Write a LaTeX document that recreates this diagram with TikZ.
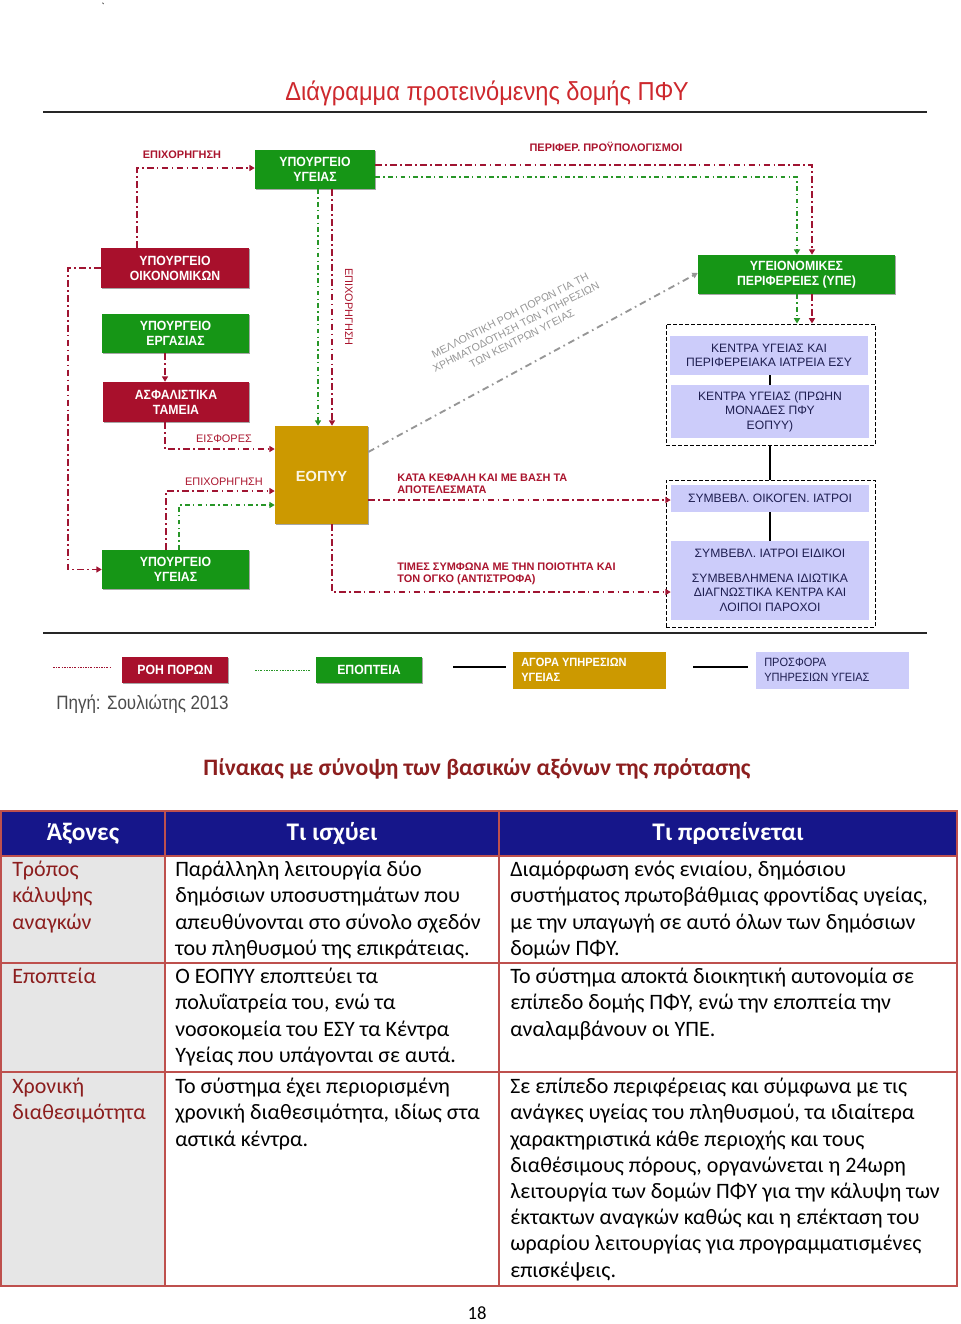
\documentclass[tikz,border=0pt]{standalone}
\usepackage{fontspec}
\setmainfont{Carlito}
\newfontfamily\ars{Liberation Sans}
\newfontfamily\boxf{Liberation Sans}[FakeStretch=0.92]
\newfontfamily\titf{Liberation Sans}[FakeStretch=0.91]
\newfontfamily\srcf{Liberation Sans}[FakeStretch=0.88]
\newfontfamily\calf{Carlito}
\usetikzlibrary{arrows.meta,fit,shadows}
\definecolor{boxred}{RGB}{168,16,44}
\definecolor{boxgreen}{RGB}{22,150,22}
\definecolor{gold}{RGB}{204,153,0}
\definecolor{lav}{RGB}{204,204,250}
\definecolor{flowred}{RGB}{160,20,50}
\definecolor{flowgreen}{RGB}{40,150,40}
\definecolor{labred}{RGB}{170,20,45}
\definecolor{titred}{RGB}{205,40,45}
\definecolor{navy}{RGB}{22,22,138}
\definecolor{tabline}{RGB}{190,80,77}
\definecolor{dred}{RGB}{140,30,30}
\definecolor{cellgray}{RGB}{230,230,230}
\definecolor{lavtext}{RGB}{30,30,80}
\definecolor{arrgray}{RGB}{150,150,150}
\begin{document}
\begin{tikzpicture}[x=0.75pt,y=-0.75pt,
  shad/.style={drop shadow={shadow xshift=0.8pt, shadow yshift=-0.8pt, opacity=0.35, fill=black}},
  boxtxt/.style={inner sep=0, align=center, text=white, font=\boxf\bfseries\fontsize{10}{11.2}\selectfont},
  redbox/.style={inner sep=0, fill=boxred, shad},
  greenbox/.style={inner sep=0, fill=boxgreen, shad},
  lavbox/.style={inner sep=0, fill=lav},
  lavtxt/.style={inner sep=0, align=center, text=lavtext, font=\ars\fontsize{9.1}{10.9}\selectfont},
  cont/.style={draw=black, dash pattern=on 3pt off 1.5pt, line width=0.7pt, inner sep=0},
  tip/.style={-{Triangle[length=4pt,width=4.5pt]}},
  redflow/.style={draw=flowred, line width=1.4pt, dash pattern=on 5pt off 2.5pt on 1.2pt off 2.5pt, tip},
  greenflow/.style={draw=flowgreen, line width=1.1pt, dash pattern=on 3.5pt off 2.5pt on 1pt off 2.5pt, tip},
  grayflow/.style={draw=arrgray, line width=1.4pt, dash pattern=on 5pt off 3pt on 1.2pt off 3pt, tip},
  solidlink/.style={draw=black, line width=1.1pt},
  lab/.style={text=labred, font=\ars\bfseries\fontsize{8.2}{9}\selectfont, inner sep=0},
  labr/.style={text=labred, font=\ars\fontsize{8.2}{9}\selectfont, inner sep=0},
  cellt/.style={inner sep=0, anchor=north west, align=left, font=\calf\fontsize{16.5}{19.65}\selectfont},
  headbox/.style={inner sep=0, fill=navy},
  headt/.style={inner sep=0, text=white, font=\calf\bfseries\fontsize{19}{21}\selectfont},
  grid/.style={draw=tabline, line width=1.1pt}
]
\useasboundingbox (0,0) rectangle (960,1324);
\node[font=\calf\fontsize{8}{9}\selectfont, inner sep=0] (tick) at (103,7) {\textasciigrave};

% title
\node[text=titred, font=\titf\fontsize{19.5}{22}\selectfont, inner sep=0] (title) at (487,93) {Διάγραμμα προτεινόμενης δομής ΠΦΥ};
\coordinate (tl1) at (43,112); \coordinate (tl2) at (927,112);
\draw[line width=1.5pt, black!85] (tl1) -- (tl2);
\coordinate (bl1) at (43,633); \coordinate (bl2) at (927,633);
\draw[line width=1.2pt, black!85] (bl1) -- (bl2);

% boxes
\node[greenbox, fit={(255,150) (375,189)}] (ug1) {};
\node[boxtxt] (ug1t) at (ug1.center) {ΥΠΟΥΡΓΕΙΟ\\ΥΓΕΙΑΣ};
\node[redbox, fit={(101,248) (249,288)}] (oik) {};
\node[boxtxt] (oikt) at (oik.center) {ΥΠΟΥΡΓΕΙΟ\\ΟΙΚΟΝΟΜΙΚΩΝ};
\node[greenbox, fit={(102,314) (249,353)}] (erg) {};
\node[boxtxt] (ergt) at (erg.center) {ΥΠΟΥΡΓΕΙΟ\\ΕΡΓΑΣΙΑΣ};
\node[redbox, fit={(103,382) (249,422)}] (asf) {};
\node[boxtxt] (asft) at (asf.center) {ΑΣΦΑΛΙΣΤΙΚΑ\\ΤΑΜΕΙΑ};
\node[inner sep=0, fill=gold, shad, fit={(275,426) (368,524)}] (eopyy) {};
\node[boxtxt, font=\ars\bfseries\fontsize{11}{12}\selectfont, text=white!90!gold] (eopyyt) at ([yshift=-1pt]eopyy.center) {ΕΟΠΥΥ};
\node[greenbox, fit={(102,550) (249,589)}] (ug2) {};
\node[boxtxt] (ug2t) at (ug2.center) {ΥΠΟΥΡΓΕΙΟ\\ΥΓΕΙΑΣ};
\node[greenbox, fit={(698,255) (895,294)}] (ype) {};
\node[boxtxt] (ypet) at (ype.center) {ΥΓΕΙΟΝΟΜΙΚΕΣ\\ΠΕΡΙΦΕΡΕΙΕΣ (ΥΠΕ)};

\node[cont, fit={(666,324) (875,445)}] (c1) {};
\node[lavbox, fit={(670,336) (868,375)}] (l1) {};
\node[lavtxt] (l1t) at (l1.center) {ΚΕΝΤΡΑ ΥΓΕΙΑΣ ΚΑΙ\\ΠΕΡΙΦΕΡΕΙΑΚΑ ΙΑΤΡΕΙΑ ΕΣΥ};
\node[lavbox, fit={(671,385) (869,438)}] (l2) {};
\node[lavtxt] (l2t) at (l2.center) {ΚΕΝΤΡΑ ΥΓΕΙΑΣ (ΠΡΩΗΝ\\ΜΟΝΑΔΕΣ ΠΦΥ\\ΕΟΠΥΥ)};
\node[cont, fit={(666,480) (875,627)}] (c2) {};
\node[lavbox, fit={(671,485) (869,512)}] (l3) {};
\node[lavtxt] (l3t) at (l3.center) {ΣΥΜΒΕΒΛ. ΟΙΚΟΓΕΝ. ΙΑΤΡΟΙ};
\node[lavbox, fit={(671,541) (869,620)}] (l4) {};
\node[lavtxt] (l4t) at (l4.center) {ΣΥΜΒΕΒΛ. ΙΑΤΡΟΙ ΕΙΔΙΚΟΙ\\[7.5pt]ΣΥΜΒΕΒΛΗΜΕΝΑ ΙΔΙΩΤΙΚΑ\\ΔΙΑΓΝΩΣΤΙΚΑ ΚΕΝΤΡΑ ΚΑΙ\\ΛΟΙΠΟΙ ΠΑΡΟΧΟΙ};

% solid links
\draw[solidlink] (770,0 |- l1.south) -- (770,0 |- l2.north);
\draw[solidlink] (770,0 |- c1.south) -- (770,0 |- c2.north);
\draw[solidlink] (770,0 |- l3.south) -- (770,0 |- l4.north);

% flows
\draw[redflow] (137,0 |- oik.north) |- (ug1.west |- 0,168);
\draw[redflow] (oik.west) -- (68,0 |- oik.west) |- (ug2.west);
\draw[redflow] (165,0 |- erg.south) -- (165,0 |- asf.north);
\draw[redflow] (165,0 |- asf.south) |- (eopyy.west |- 0,449);
\draw[redflow] (166,0 |- ug2.north) |- (eopyy.west |- 0,491);
\draw[greenflow] (179,0 |- ug2.north) |- (eopyy.west |- 0,505);
\draw[greenflow] (318,0 |- ug1.south) -- (318,0 |- eopyy.north);
\draw[redflow] (332,0 |- ug1.south) -- (332,0 |- eopyy.north);
\draw[redflow] (ug1.east |- 0,165) -| (812,0 |- ype.north);
\draw[greenflow] (ug1.east |- 0,177) -| (797,0 |- ype.north);
\draw[greenflow] (797,0 |- ype.south) -- (797,0 |- c1.north);
\draw[redflow] (812,0 |- ype.south) -- (812,0 |- c1.north);
\draw[redflow] (eopyy.east |- 0,500) -- (l3.west |- 0,500);
\draw[redflow] (332,0 |- eopyy.south) |- (l4.west |- 0,592);
\draw[grayflow] (eopyy.east |- 0,452) -- (ype.west |- 0,273);

% labels
\node[lab] (lepix1) at (182,155) {ΕΠΙΧΟΡΗΓΗΣΗ};
\node[lab] (lperif) at (606,147) {ΠΕΡΙΦΕΡ. ΠΡΟΫΠΟΛΟΓΙΣΜΟΙ};
\node[labr, rotate=-90] (lepix2) at (349,307) {ΕΠΙΧΟΡΗΓΗΣΗ};
\node[labr] (leisf) at (224,439) {ΕΙΣΦΟΡΕΣ};
\node[labr] (lepix3) at (224,482) {ΕΠΙΧΟΡΗΓΗΣΗ};
\node[lab, anchor=west, align=left] (lkata) at (397,484) {ΚΑΤΑ ΚΕΦΑΛΗ ΚΑΙ ΜΕ ΒΑΣΗ ΤΑ\\ΑΠΟΤΕΛΕΣΜΑΤΑ};
\node[lab, anchor=west, align=left] (ltimes) at (397,574) {ΤΙΜΕΣ ΣΥΜΦΩΝΑ ΜΕ ΤΗΝ ΠΟΙΟΤΗΤΑ ΚΑΙ\\ΤΟΝ ΟΓΚΟ (ΑΝΤΙΣΤΡΟΦΑ)};
\node[text=arrgray, font=\ars\fontsize{8}{9.75}\selectfont, rotate=27, align=center, inner sep=0] (lmell) at (516,327) {ΜΕΛΛΟΝΤΙΚΗ ΡΟΗ ΠΟΡΩΝ ΓΙΑ ΤΗ\\ΧΡΗΜΑΤΟΔΟΤΗΣΗ ΤΩΝ ΥΠΗΡΕΣΙΩΝ\\ΤΩΝ ΚΕΝΤΡΩΝ ΥΓΕΙΑΣ};

% legend
\coordinate (lg1a) at (53,667); \coordinate (lg1b) at (110,667);
\draw[flowred, line width=0.6pt, dash pattern=on 1.5pt off 1pt on 0.5pt off 1pt] (lg1a) -- (lg1b);
\node[redbox, fit={(122,657) (228,683)}] (leg1) {};
\node[boxtxt] (leg1t) at (leg1.center) {ΡΟΗ ΠΟΡΩΝ};
\coordinate (lg2a) at (255,670); \coordinate (lg2b) at (310,670);
\draw[flowgreen, line width=0.6pt, dash pattern=on 1.5pt off 1pt on 0.5pt off 1pt] (lg2a) -- (lg2b);
\node[greenbox, fit={(316,657) (422,683)}] (leg2) {};
\node[boxtxt] (leg2t) at (leg2.center) {ΕΠΟΠΤΕΙΑ};
\coordinate (lg3a) at (453,667); \coordinate (lg3b) at (506,667);
\draw[line width=0.9pt] (lg3a) -- (lg3b);
\node[fill=gold, inner sep=0, fit={(513,652) (666,689)}] (leg3) {};
\node[text=white, font=\boxf\bfseries\fontsize{9}{11}\selectfont, align=left, anchor=west, inner sep=0] (leg3t) at (521,670) {ΑΓΟΡΑ ΥΠΗΡΕΣΙΩΝ\\ΥΓΕΙΑΣ};
\coordinate (lg4a) at (693,667); \coordinate (lg4b) at (748,667);
\draw[line width=0.9pt] (lg4a) -- (lg4b);
\node[fill=lav, inner sep=0, fit={(756,652) (909,689)}] (leg4) {};
\node[text=lavtext, font=\boxf\fontsize{9}{11}\selectfont, align=left, anchor=west, inner sep=0] (leg4t) at (764,670) {ΠΡΟΣΦΟΡΑ\\ΥΠΗΡΕΣΙΩΝ ΥΓΕΙΑΣ};
\node[text=black!70, font=\srcf\fontsize{14.5}{16}\selectfont, anchor=west, inner sep=0] (src) at (56,704) {Πηγή: Σουλιώτης 2013};

% table title
\node[text=dred, font=\calf\bfseries\fontsize{17.7}{20}\selectfont, inner sep=0] (ttitle) at (477,769) {Πίνακας με σύνοψη των βασικών αξόνων της πρότασης};

% table
\node[fill=cellgray, inner sep=0, fit={(1,856) (165,1286)}] (gcol) {};
\node[headbox, fit={(1,811) (165,856)}] (h1) {};
\node[headbox, fit={(165,811) (499,856)}] (h2) {};
\node[headbox, fit={(499,811) (957,856)}] (h3) {};
\node[headt] (h1t) at (h1.center) {Άξονες};
\node[headt] (h2t) at (h2.center) {Τι ισχύει};
\node[headt] (h3t) at (h3.center) {Τι προτείνεται};
\coordinate (tA) at (1,811); \coordinate (tB) at (957,1286);
\draw[grid] (tA) rectangle (tB);
\foreach \yy in {856,963,1072} \draw[grid] (1,\yy) -- (957,\yy);
\foreach \xx in {165,499} \draw[grid] (\xx,811) -- (\xx,1286);

\node[cellt, text=dred] (r1c1) at (12,861) {Τρόπος\\κάλυψης\\αναγκών};
\node[cellt] (r1c2) at (175,861) {Παράλληλη λειτουργία δύο\\δημόσιων υποσυστημάτων που\\απευθύνονται στο σύνολο σχεδόν\\του πληθυσμού της επικράτειας.};
\node[cellt] (r1c3) at (510,861) {Διαμόρφωση ενός ενιαίου, δημόσιου\\συστήματος πρωτοβάθμιας φροντίδας υγείας,\\με την υπαγωγή σε αυτό όλων των δημόσιων\\δομών ΠΦΥ.};
\node[cellt, text=dred] (r2c1) at (12,968) {Εποπτεία};
\node[cellt] (r2c2) at (175,968) {Ο ΕΟΠΥΥ εποπτεύει τα\\πολυΐατρεία του, ενώ τα\\νοσοκομεία του ΕΣΥ τα Κέντρα\\Υγείας που υπάγονται σε αυτά.};
\node[cellt] (r2c3) at (510,968) {Το σύστημα αποκτά διοικητική αυτονομία σε\\επίπεδο δομής ΠΦΥ, ενώ την εποπτεία την\\αναλαμβάνουν οι ΥΠΕ.};
\node[cellt, text=dred] (r3c1) at (12,1078) {Χρονική\\διαθεσιμότητα};
\node[cellt] (r3c2) at (175,1078) {Το σύστημα έχει περιορισμένη\\χρονική διαθεσιμότητα, ιδίως στα\\αστικά κέντρα.};
\node[cellt] (r3c3) at (510,1078) {Σε επίπεδο περιφέρειας και σύμφωνα με τις\\ανάγκες υγείας του πληθυσμού, τα ιδιαίτερα\\χαρακτηριστικά κάθε περιοχής και τους\\διαθέσιμους πόρους, οργανώνεται η 24ωρη\\λειτουργία των δομών ΠΦΥ για την κάλυψη των\\έκτακτων αναγκών καθώς και η επέκταση του\\ωραρίου λειτουργίας για προγραμματισμένες\\επισκέψεις.};

\node[font=\calf\fontsize{14}{16}\selectfont, inner sep=0] (pnum) at (477,1313) {18};
\end{tikzpicture}
\end{document}
